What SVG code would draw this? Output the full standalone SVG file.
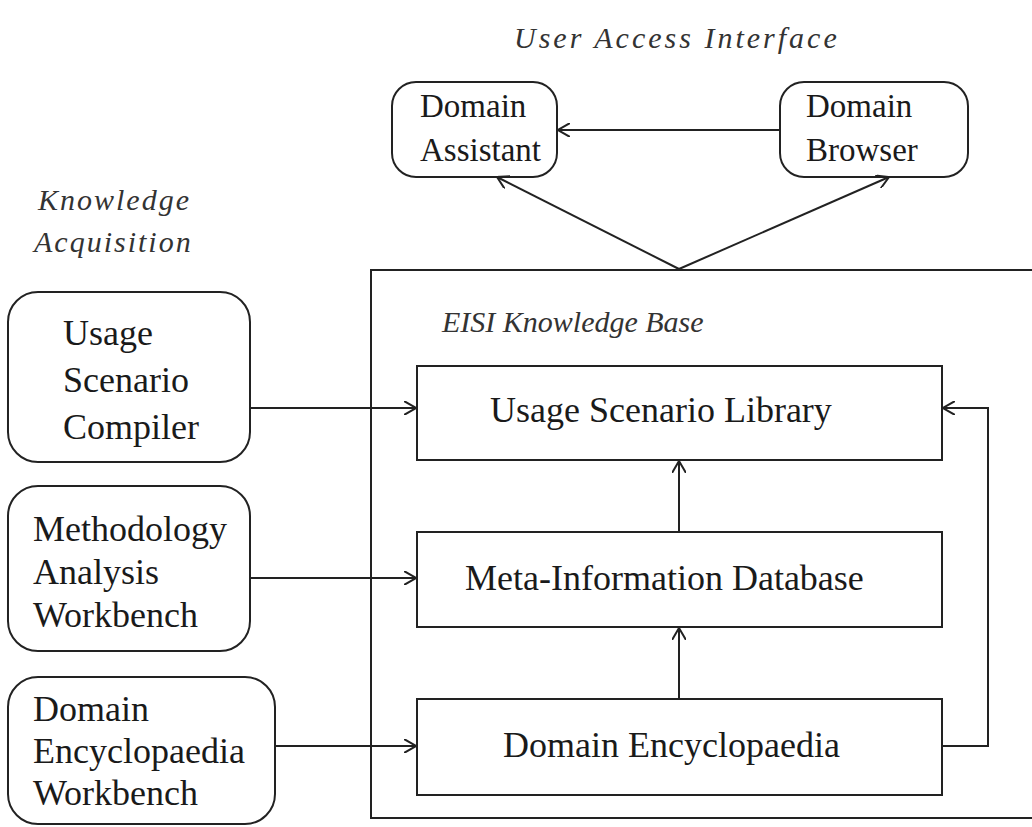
<svg xmlns="http://www.w3.org/2000/svg" width="1032" height="827" viewBox="0 0 1032 827">
<style>
.box{fill:none;stroke:#222;stroke-width:2}
.conn{fill:none;stroke:#222;stroke-width:2}
.t{font-family:"Liberation Serif",serif;fill:#1a1a1a}
.n36{font-size:36px}
.n33{font-size:33px}
.it{font-family:"Liberation Serif",serif;font-style:italic;fill:#333;font-size:30px}
</style>
<defs>
<marker id="ah" viewBox="0 0 12 14" refX="12" refY="7" markerWidth="12" markerHeight="14" markerUnits="userSpaceOnUse" orient="auto">
<path d="M0,0 L12,7 L0,14" fill="none" stroke="#222" stroke-width="2"/>
</marker>
</defs>
<rect width="1032" height="827" fill="#fff"/>

<text class="it" x="514" y="48" letter-spacing="3">User Access Interface</text>
<text class="it" x="38" y="210" letter-spacing="2">Knowledge</text>
<text class="it" x="34" y="252" letter-spacing="2">Acquisition</text>

<g id="eisi">
<path class="box" d="M1036,270 L371,270 L371,818 L1036,818"/>
<text class="it" x="442" y="332" style="font-size:30px">EISI Knowledge Base</text>
</g>

<g id="domain-assistant">
<rect class="box" x="392" y="82" width="165" height="95" rx="24"/>
<text class="t n33" x="420" y="117">Domain</text>
<text class="t n33" x="420" y="161">Assistant</text>
</g>
<g id="domain-browser">
<rect class="box" x="780" y="82" width="188" height="95" rx="24"/>
<text class="t n33" x="806" y="117">Domain</text>
<text class="t n33" x="806" y="161">Browser</text>
</g>

<g id="usage-scenario-compiler">
<rect class="box" x="8" y="292" width="242" height="170" rx="30"/>
<text class="t n36" x="63" y="345">Usage</text>
<text class="t n36" x="63" y="392">Scenario</text>
<text class="t n36" x="63" y="439">Compiler</text>
</g>
<g id="methodology-analysis-workbench">
<rect class="box" x="8" y="486" width="242" height="165" rx="30"/>
<text class="t n36" x="33" y="541">Methodology</text>
<text class="t n36" x="33" y="584">Analysis</text>
<text class="t n36" x="33" y="627">Workbench</text>
</g>
<g id="domain-encyclopaedia-workbench">
<rect class="box" x="8" y="677" width="267" height="147" rx="30"/>
<text class="t n36" x="33" y="721">Domain</text>
<text class="t n36" x="33" y="763">Encyclopaedia</text>
<text class="t n36" x="33" y="805">Workbench</text>
</g>

<g id="usage-scenario-library">
<rect class="box" x="417" y="366" width="525" height="94"/>
<text class="t n36" x="490" y="422">Usage Scenario Library</text>
</g>
<g id="meta-information-database">
<rect class="box" x="417" y="532" width="525" height="95"/>
<text class="t n36" x="465" y="590">Meta-Information Database</text>
</g>
<g id="domain-encyclopaedia">
<rect class="box" x="417" y="699" width="525" height="96"/>
<text class="t n36" x="503" y="757">Domain Encyclopaedia</text>
</g>

<g id="connectors">
<line class="conn" x1="780" y1="130" x2="558" y2="130" marker-end="url(#ah)"/>
<line class="conn" x1="679" y1="269" x2="497" y2="177" marker-end="url(#ah)"/>
<line class="conn" x1="679" y1="269" x2="889" y2="177" marker-end="url(#ah)"/>
<line class="conn" x1="250" y1="408" x2="416" y2="408" marker-end="url(#ah)"/>
<line class="conn" x1="250" y1="578" x2="416" y2="578" marker-end="url(#ah)"/>
<line class="conn" x1="275" y1="746" x2="416" y2="746" marker-end="url(#ah)"/>
<line class="conn" x1="679" y1="532" x2="679" y2="461" marker-end="url(#ah)"/>
<line class="conn" x1="679" y1="699" x2="679" y2="628" marker-end="url(#ah)"/>
<polyline class="conn" points="942,746 988,746 988,408 943,408" marker-end="url(#ah)"/>
</g>
</svg>
